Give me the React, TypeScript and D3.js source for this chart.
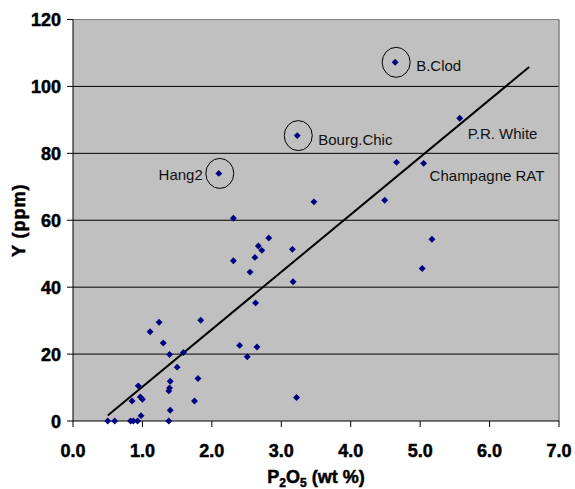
import React from "react";
import * as d3 from "d3";

// P2O5 (wt %) vs Y (ppm)
const xs = [0.5, 0.6, 0.83, 0.87, 0.93, 0.98, 0.85, 0.97, 1.0, 0.94, 1.11, 1.24, 1.3, 1.39, 1.59, 1.5, 1.4, 1.39, 1.38, 1.4, 1.38, 1.75, 1.8, 1.84, 2.4, 2.51, 2.65, 2.63, 3.22, 2.31, 2.82, 2.67, 2.72, 2.62, 2.31, 2.55, 3.16, 3.17, 3.47, 2.1, 3.23, 4.64, 5.57, 4.66, 5.05, 4.49, 5.17, 5.03];
const ys = [0, 0, 0, 0, 0, 1.6, 6.0, 7.2, 6.5, 10.5, 26.7, 29.5, 23.3, 19.9, 20.5, 16.1, 11.9, 9.9, 9.0, 3.2, 0, 6.0, 12.7, 30.1, 22.6, 19.2, 22.1, 35.3, 7.0, 60.6, 54.7, 52.3, 51.0, 48.9, 47.9, 44.5, 51.3, 41.6, 65.5, 74.0, 85.3, 107.2, 90.5, 77.3, 77.0, 66.0, 54.3, 45.6];

const xTicks = [0, 1, 2, 3, 4, 5, 6, 7];
const yTicks = [0, 20, 40, 60, 80, 100, 120];

// circled outliers
const circled = [
  { x: 2.1, y: 74.0 },
  { x: 3.23, y: 85.3 },
  { x: 4.64, y: 107.2 },
];
const labels = [
  { text: "Hang2", x: 2.1, y: 74.0, dx: -16, dy: 7, anchor: "end" },
  { text: "Bourg.Chic", x: 3.23, y: 85.3, dx: 21, dy: 9, anchor: "start" },
  { text: "B.Clod", x: 4.64, y: 107.2, dx: 21, dy: 9, anchor: "start" },
  { text: "P.R. White", x: 5.57, y: 90.5, dx: 8, dy: 21, anchor: "start" },
  { text: "Champagne RAT", x: 5.05, y: 77.0, dx: 6, dy: 17.5, anchor: "start" },
];

// linear fit
const fitSlope = 17.15;
const fitIntercept = -6.9;
const fitRange = [0.5, 6.57];

const W = 575;
const H = 489;
const left = 73;
const right = 559;
const top = 19.5;
const bottom = 421;

export default function App() {
  const x = d3.scaleLinear().domain([0, 7]).range([left, right]);
  const y = d3.scaleLinear().domain([0, 120]).range([bottom, top]);
  const diamond = d3.symbol(d3.symbolSquare, 24)();
  const line = d3
    .line<number>()
    .x((d) => x(d))
    .y((d) => y(fitSlope * d + fitIntercept));
  const font = "Arial, 'Liberation Sans', sans-serif";
  // heavier bold like the original's axis text
  const heavy = { fontWeight: "bold", stroke: "#000", strokeWidth: 0.5 } as const;

  return (
    <svg
      width={W}
      height={H}
      style={{ position: "absolute", left: 0, top: 0, background: "#fff" }}
      fontFamily={font}
    >
      <rect x={left} y={top} width={right - left} height={bottom - top} fill="#c0c0c0" />
      {yTicks.slice(1, -1).map((t) => (
        <line key={t} x1={left} x2={right} y1={y(t)} y2={y(t)} stroke="#000" strokeWidth={1} />
      ))}
      <line x1={left} x2={right} y1={top} y2={top} stroke="#808080" />
      <line x1={right} x2={right} y1={top} y2={bottom} stroke="#808080" strokeWidth={1.5} />
      <line x1={left} x2={left} y1={top} y2={bottom} stroke="#000" />
      <line x1={left} x2={right} y1={bottom} y2={bottom} stroke="#000" />
      {yTicks.map((t) => (
        <g key={t}>
          <line x1={left - 6} x2={left} y1={y(t)} y2={y(t)} stroke="#000" />
          <text x={61} y={y(t) + 6.5} textAnchor="end" fontSize={18} {...heavy}>
            {t}
          </text>
        </g>
      ))}
      {xTicks.map((t) => (
        <g key={t}>
          <line x1={x(t)} x2={x(t)} y1={bottom} y2={bottom + 6} stroke="#000" />
          <text x={x(t)} y={457} textAnchor="middle" fontSize={18} {...heavy}>
            {d3.format(".1f")(t)}
          </text>
        </g>
      ))}
      <text x={316} y={483} textAnchor="middle" fontSize={18} {...heavy}>
        P<tspan fontSize={12} dy={4}>2</tspan>
        <tspan dy={-4}>O</tspan>
        <tspan fontSize={12} dy={4}>5</tspan>
        <tspan dy={-4}> (wt %)</tspan>
      </text>
      <text
        transform={`translate(25,${(top + bottom) / 2}) rotate(-90)`}
        textAnchor="middle"
        fontSize={18}
        letterSpacing={1}
        {...heavy}
      >
        Y (ppm)
      </text>
      <path d={line(fitRange) ?? ""} fill="none" stroke="#000" strokeWidth={2} />
      {xs.map((d, i) => (
        <path
          key={i}
          d={diamond}
          transform={`translate(${x(d)},${y(ys[i])}) rotate(45)`}
          fill="#000080"
        />
      ))}
      {circled.map((c, i) => (
        <ellipse
          key={i}
          cx={x(c.x) + 1}
          cy={y(c.y)}
          rx={14}
          ry={15}
          fill="none"
          stroke="#000"
          strokeWidth={1}
        />
      ))}
      {labels.map((l) => (
        <text
          key={l.text}
          x={x(l.x) + l.dx}
          y={y(l.y) + l.dy}
          textAnchor={l.anchor}
          fontSize={15}
          fill="#111"
        >
          {l.text}
        </text>
      ))}
    </svg>
  );
}
